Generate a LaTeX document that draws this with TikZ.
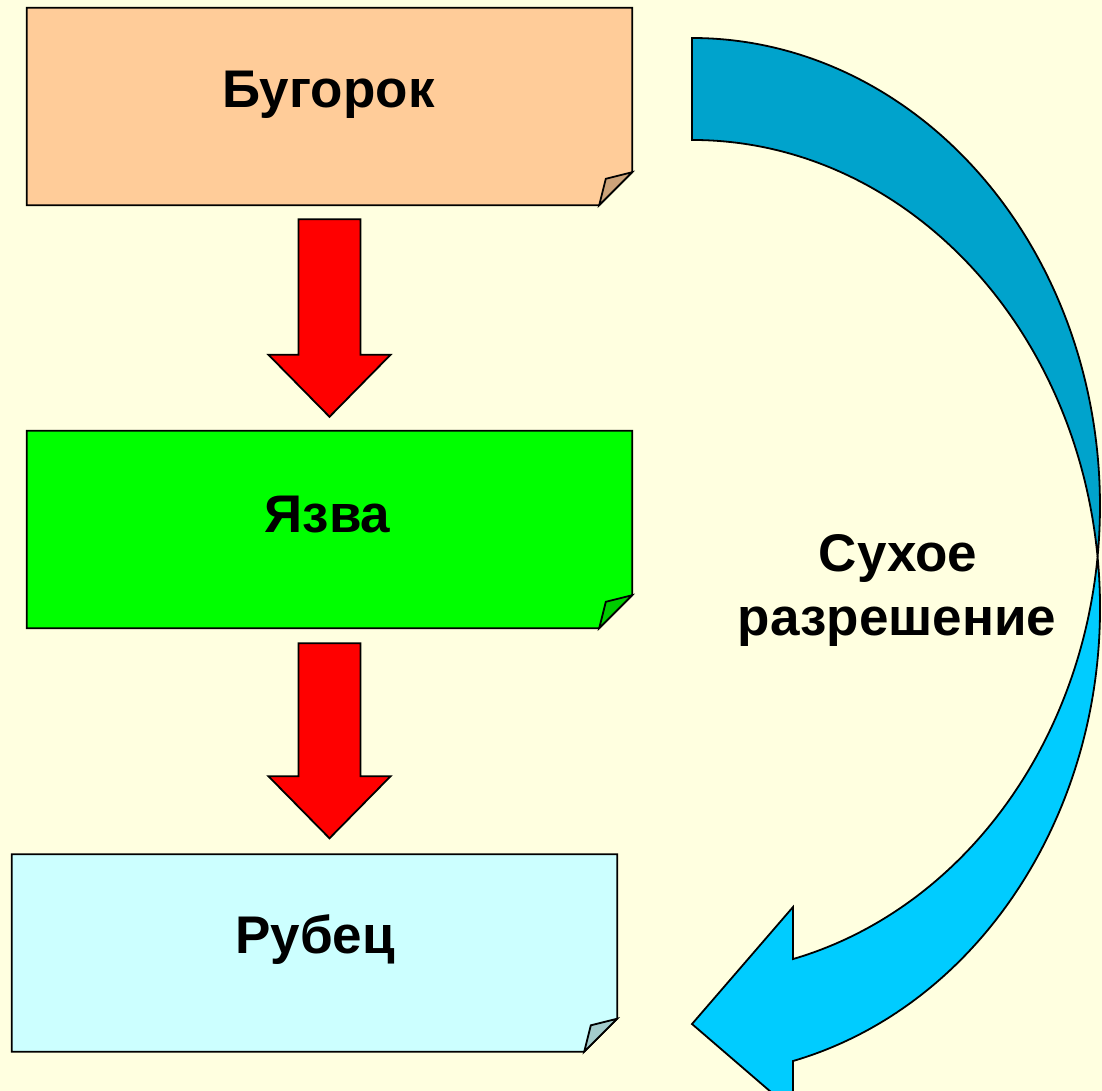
\documentclass[tikz,border=0pt]{standalone}
\usepackage{fontspec}
\setmainfont{Liberation Sans}
\usetikzlibrary{calc}
\definecolor{bgyel}{RGB}{255,255,224}
\definecolor{peach}{RGB}{255,204,153}
\definecolor{peachd}{RGB}{204,163,122}
\definecolor{grn}{RGB}{0,255,0}
\definecolor{grnd}{RGB}{0,204,0}
\definecolor{cyanl}{RGB}{204,255,255}
\definecolor{cyand}{RGB}{163,204,204}
\definecolor{arrl}{RGB}{0,204,255}
\definecolor{arrd}{RGB}{0,163,204}
\tikzset{
  outl/.style={draw=black, line width=1.8pt, line join=miter},
  boxfr/.style={draw=none, inner sep=0pt, minimum width=605pt, minimum height=197pt},
  lbl/.style={font=\fontsize{53}{53}\selectfont\bfseries, inner sep=0pt, anchor=base},
  redarr/.style={outl, fill=red},
}
\newcommand\foldbox[3]{% node, fill, fold fill
  \draw[outl, fill=#2] (#1.north west) -- (#1.north east) -- ($(#1.south east)+(0,33)$)
     -- ($(#1.south east)+(-33,0)$) -- (#1.south west) -- cycle;
  \draw[outl, fill=#3] ($(#1.south east)+(0,33)$) -- ($(#1.south east)+(-26.4,26.4)$)
     -- ($(#1.south east)+(-33,0)$) -- cycle;
}
\newcommand\downblock[2]{% top coordinate, tip coordinate
  \draw[redarr] ($(#1)+(-31,0)$) -- ($(#1)+(31,0)$) -- ($(#2)+(31,62)$) -- ($(#2)+(61,62)$)
     -- (#2) -- ($(#2)+(-61,62)$) -- ($(#2)+(-31,62)$) -- cycle;
}
\begin{document}
\begin{tikzpicture}[x=1pt, y=1pt]
\useasboundingbox (0,0) rectangle (1102,-1091);
\clip (0,0) rectangle (1102,-1091);
\fill[bgyel] (0,0) rectangle (1102,-1091);

% boxes
\node[boxfr] (b1) at (329.5,-106.5) {};
\node[boxfr] (b2) at (329.5,-529.5) {};
\node[boxfr] (b3) at (314.5,-953) {};
\foldbox{b1}{peach}{peachd}
\foldbox{b2}{grn}{grnd}
\foldbox{b3}{cyanl}{cyand}

\node[lbl] (t1) at (328.5,-108) {Бугорок};
\node[lbl] (t2) at (327.5,-532) {Язва};
\node[lbl] (t3) at (315,-953) {Рубец};

% red block arrows
\coordinate (a1s) at ($(b1.south)+(0,-14)$);
\coordinate (a1t) at ($(a1s |- b2.north)+(0,14)$);
\coordinate (a2s) at ($(b2.south)+(0,-15)$);
\coordinate (a2t) at ($(a2s |- b3.north)+(0,16)$);
\downblock{a1s}{a1t}
\downblock{a2s}{a2t}

% curved arrow
\draw[outl, fill=arrd] (692,-38) arc[start angle=90, end angle=-6.259, x radius=408, y radius=467.8]
   arc[start angle=6.259, end angle=90, x radius=408, y radius=467.8] -- cycle;
\draw[outl, fill=arrl] (1097.57,-556.8) arc[start angle=6.259, end angle=-75.667, x radius=408, y radius=467.8]
   -- (793,-1111) -- (692,-1024) -- (793,-907) -- (793,-959.04)
   arc[start angle=-75.667, end angle=-6.259, x radius=408, y radius=467.8] -- cycle;

\node[lbl] (s1) at (898,-571) {Сухое};
\node[lbl] (s2) at (897,-635) {разрешение};
\end{tikzpicture}
\end{document}
